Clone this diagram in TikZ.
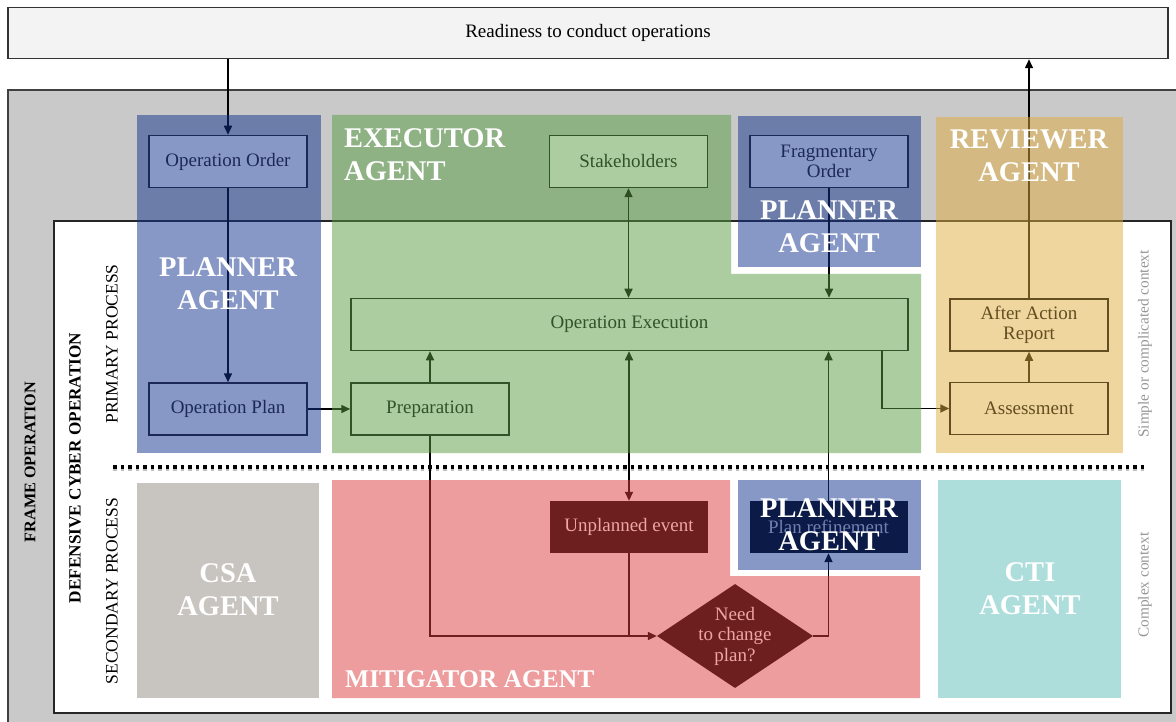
\documentclass[tikz,border=0pt]{standalone}
\usepackage{fontspec}
\setmainfont{Liberation Serif}
\usetikzlibrary{positioning,arrows.meta,shapes.geometric}

% agent colours (used at half opacity)
\definecolor{planner}{RGB}{17,50,142}
\definecolor{executor}{RGB}{88,156,66}
\definecolor{reviewer}{RGB}{224,172,62}
\definecolor{mitigator}{RGB}{221,61,61}
\definecolor{csa}{RGB}{147,141,131}
\definecolor{cti}{RGB}{93,191,185}
% text and border colours
\definecolor{plannerdark}{RGB}{27,40,88}
\definecolor{executordark}{RGB}{50,82,40}
\definecolor{reviewerdark}{RGB}{98,78,32}
\definecolor{framegray}{RGB}{200,201,200}
\definecolor{barfill}{RGB}{243,243,243}
\definecolor{eventred}{RGB}{109,31,31}
\definecolor{eventtext}{RGB}{238,165,165}
\definecolor{refinenavy}{RGB}{11,26,70}
\definecolor{refinetext}{RGB}{112,128,178}
\definecolor{contextgray}{RGB}{150,150,150}

\pgfdeclarelayer{frames}
\pgfdeclarelayer{lines}
\pgfdeclarelayer{regions}
\pgfsetlayers{frames,lines,regions,main}

\tikzset{
  region/.style={fill=#1, fill opacity=0.5},
  agent/.style={text=white, align=center, inner sep=0pt,
    font=\fontsize{28.5}{33}\selectfont\bfseries},
  procbox/.style={draw=#1dark, fill=#1!50!white, text=#1dark, line width=1.5pt,
    minimum width=158pt, minimum height=52pt, align=center,
    font=\fontsize{19}{20.5}\selectfont},
  darkbox/.style={fill=#1, minimum width=158pt, minimum height=52pt,
    align=center, font=\fontsize{19}{20.5}\selectfont},
  flow/.style={line width=1.6pt, -{Triangle[length=9pt,width=8pt]}},
  twoway/.style={line width=1.6pt, {Triangle[length=9pt,width=8pt]}-{Triangle[length=9pt,width=8pt]}},
  sidetext/.style={rotate=90, font=\fontsize{17.5}{20}\selectfont},
  contexttext/.style={rotate=90, text=contextgray, font=\fontsize{15.3}{18}\selectfont}
}

\begin{document}
\begin{tikzpicture}[x=1pt, y=-1pt]
  \useasboundingbox (0,0) rectangle (1176,722);
  \clip (0,0) rectangle (1176,722);

  % outer frames
  \begin{pgfonlayer}{frames}
    \filldraw[fill=framegray, draw=black!75, line width=1.5pt] (8,90) rectangle (1200,740);
    \filldraw[fill=white, draw=black!85, line width=1.5pt] (54,221) rectangle (1171,713);
    \draw[black!25, line width=3.5pt, dash pattern=on 3.5pt off 4pt] (113,469) -- (1146,469);
    \draw[line width=3.5pt, dash pattern=on 3.5pt off 4pt] (113,467) -- (1146,467);
  \end{pgfonlayer}

  \node[draw=black!80, fill=barfill, line width=1.5pt, minimum width=1160pt, minimum height=51pt,
    font=\fontsize{19}{20.5}\selectfont] (bar) at (588,33) {Readiness to conduct operations};

  % process boxes
  \node[procbox=planner] (order) at (228,161.5) {Operation Order};
  \node[procbox=planner] (plan) at (228,409) {Operation Plan};
  \node[procbox=executor] (stake) at (628.5,161.5) {Stakeholders};
  \node[procbox=planner] (frag) at (829,161.5) {Fragmentary\\Order};
  \node[procbox=executor, minimum width=557pt] (exec) at (629.5,324.5) {Operation Execution};
  \node[procbox=executor] (prep) at (430,409) {Preparation};
  \node[procbox=reviewer] (aar) at (1029,325) {After Action\\Report};
  \node[procbox=reviewer] (assess) at (1029,408.5) {Assessment};
  \node[darkbox=eventred, text=eventtext] (event) at (629,527) {Unplanned event};
  \node[darkbox=refinenavy, text=refinetext] (refine) at (828.5,527) {Plan refinement};
  \node[diamond, fill=eventred, minimum width=156pt, minimum height=104pt, inner sep=0pt,
    label={[text=eventtext, align=center, font=\fontsize{19}{20.5}\selectfont]center:Need\\to change\\plan?}]
    (change) at (735,636) {};

  % agent names
  \node[agent] (plannerA) at (228,284) {PLANNER\\AGENT};
  \node[agent, align=left, anchor=west] (executorA) at (344,155) {EXECUTOR\\AGENT};
  \node[agent] (plannerB) at (829,227) {PLANNER\\AGENT};
  \node[agent] (reviewerA) at (1029,156) {REVIEWER\\AGENT};
  \node[agent] (csaA) at (228,590) {CSA\\AGENT};
  \node[agent] (ctiA) at (1030,589) {CTI\\AGENT};
  \node[agent, anchor=base west, font=\fontsize{25.5}{30}\selectfont\bfseries] (mitigatorA) at (345,687) {MITIGATOR AGENT};
  \node[agent] (plannerC) at (829,525) {PLANNER\\AGENT};

  % side labels
  \node[sidetext, font=\fontsize{16.2}{20}\selectfont\bfseries] (frameL) at (30,462) {FRAME OPERATION};
  \node[sidetext, font=\fontsize{17.2}{20}\selectfont\bfseries] (dcoL) at (75,468) {DEFENSIVE CYBER OPERATION};
  \node[sidetext] (primaryL) at (112,344) {PRIMARY PROCESS};
  \node[sidetext] (secondaryL) at (112,591) {SECONDARY PROCESS};
  \node[contexttext] (simpleL) at (1145,344) {Simple or complicated context};
  \node[contexttext] (complexL) at (1145,585) {Complex context};

  % connectors (tinted by the agent areas above them)
  \begin{pgfonlayer}{lines}
    \draw[flow] (bar.south -| order.north) -- (order.north);
    \draw[flow] (order) -- (plan);
    \draw[flow] (plan) -- (prep);
    \draw[flow] (prep) -- (prep |- exec.south);
    \draw[twoway] (stake) -- (stake |- exec.north);
    \draw[flow] (frag) -- (frag |- exec.north);
    \draw[twoway] (event.north |- exec.south) -- (event);
    \draw[flow] ([xshift=-27pt]exec.south east) |- (assess);
    \draw[flow] (assess) -- (aar);
    \draw[flow] (aar) -- (aar |- bar.south);
    \draw[flow] (prep) |- (change);
    \draw[line width=1.6pt] (event) -- (event |- change);
    \draw[flow] (change) -| (refine);
    \draw[flow] (refine) -- (refine |- exec.south);
  \end{pgfonlayer}

  % agent areas
  \begin{pgfonlayer}{regions}
    \fill[region=planner] (137,115) rectangle (321,453);
    \fill[region=executor] (332,115) -- (731,115) -- (731,274) -- (921,274) -- (921,453) -- (332,453) -- cycle;
    \fill[region=planner] (738,116) rectangle (921,267);
    \fill[region=reviewer] (936,117) rectangle (1123,453);
    \fill[region=csa] (137,483) rectangle (319,698);
    \fill[region=mitigator] (332,480) -- (730,480) -- (730,576) -- (920,576) -- (920,698) -- (332,698) -- cycle;
    \fill[region=planner] (738,480) rectangle (921,570);
    \fill[region=cti] (938,480) rectangle (1121,698);
  \end{pgfonlayer}
\end{tikzpicture}
\end{document}
